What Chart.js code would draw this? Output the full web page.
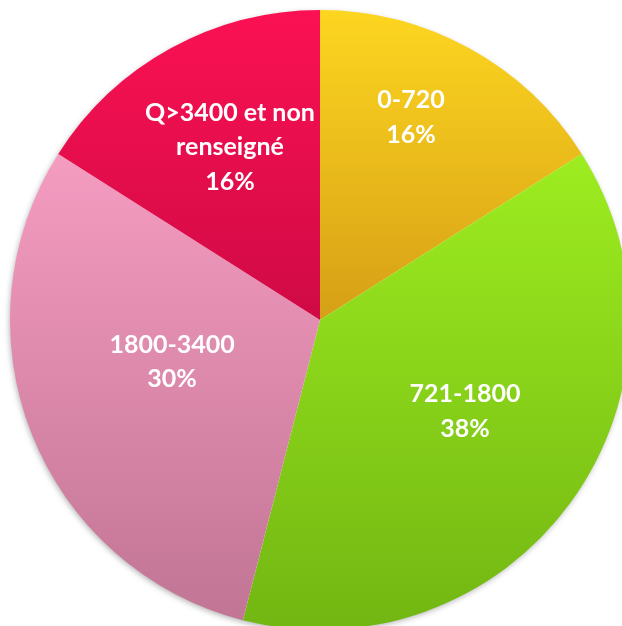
<!DOCTYPE html>
<html>
<head>
<meta charset="utf-8">
<script src="https://cdn.jsdelivr.net/npm/chart.js@4"></script>
<style>
html, body { margin: 0; padding: 0; background: #fff; overflow: hidden; }
#wrap { width: 640px; height: 640px; }
</style>
</head>
<body>
<div id="wrap"><canvas id="pieChart" width="640" height="640"></canvas></div>
<script>
// data
const categories = ["0-720", "721-1800", "1800-3400", "Q>3400 et non renseigné"]
const labelLines = [["0-720"], ["721-1800"], ["1800-3400"], ["Q>3400 et non", "renseigné"]]
const shares = [16, 38, 30, 16]

// style: gradient colours (top, bottom) and the vertical span of each gradient
const topColors = ["#FDD620", "#9DEC20", "#F59CC1", "#FB1153"]
const bottomColors = ["#D69F16", "#72B612", "#C27595", "#CF0A45"]
const gradSpan = [[0, 0.5], [0.24, 1], [0.23, 0.98], [0, 0.5]]
// label placement: fraction of radius, angle shift (deg) from slice middle
const labelPlace = [[0.716, -4.6], [0.553, -3.75], [0.496, 5.8], [0.629, 1.3]]

function sliceFill(context){
  const chart = context.chart
  const area = chart.chartArea
  const i = context.dataIndex
  if(!area) return topColors[i]
  const h = area.bottom - area.top
  const g = chart.ctx.createLinearGradient(0, area.top + gradSpan[i][0]*h, 0, area.top + gradSpan[i][1]*h)
  g.addColorStop(0, topColors[i])
  g.addColorStop(1, bottomColors[i])
  return g
}

// soft shadow under the whole pie
const pieShadow = {
  id: "pieShadow",
  beforeDatasetsDraw(chart){
    const arc = chart.getDatasetMeta(0).data[0]
    if(!arc) return
    const c = chart.ctx
    c.save()
    c.shadowColor = "rgba(0,0,0,0.35)"
    c.shadowBlur = 6
    c.shadowOffsetX = -1
    c.shadowOffsetY = 2
    c.fillStyle = "#ffffff"
    c.beginPath()
    c.arc(arc.x, arc.y, arc.outerRadius - 1, 0, Math.PI*2)
    c.fill()
    c.restore()
  }
}

// white labels inside slices
const sliceLabels = {
  id: "sliceLabels",
  afterDatasetsDraw(chart){
    const c = chart.ctx
    const arcs = chart.getDatasetMeta(0).data
    c.save()
    c.fillStyle = "#ffffff"
    c.font = "bold 25px Lato"
    c.textAlign = "center"
    c.textBaseline = "middle"
    arcs.forEach((arc, i) => {
      const mid = (arc.startAngle + arc.endAngle)/2 + labelPlace[i][1]*Math.PI/180
      const r = arc.outerRadius*labelPlace[i][0]
      const x = arc.x + Math.cos(mid)*r
      const y = arc.y + Math.sin(mid)*r
      const lines = labelLines[i].concat([shares[i] + "%"])
      const lh = 34.5
      const y0 = y - (lines.length - 1)*lh/2
      lines.forEach((t, k) => c.fillText(t, x, y0 + k*lh))
    })
    c.restore()
  }
}

const ctx = document.getElementById("pieChart")

new Chart(ctx, {
  type: "pie",
  data: {
    labels: categories,
    datasets: [{
      data: shares,
      backgroundColor: sliceFill,
      borderWidth: 0
    }]
  },
  options: {
    responsive: false,
    animation: false,
    layout: { padding: 10 },
    plugins: {
      legend: { display: false },
      tooltip: { enabled: false }
    }
  },
  plugins: [pieShadow, sliceLabels]
})
</script>
</body>
</html>
